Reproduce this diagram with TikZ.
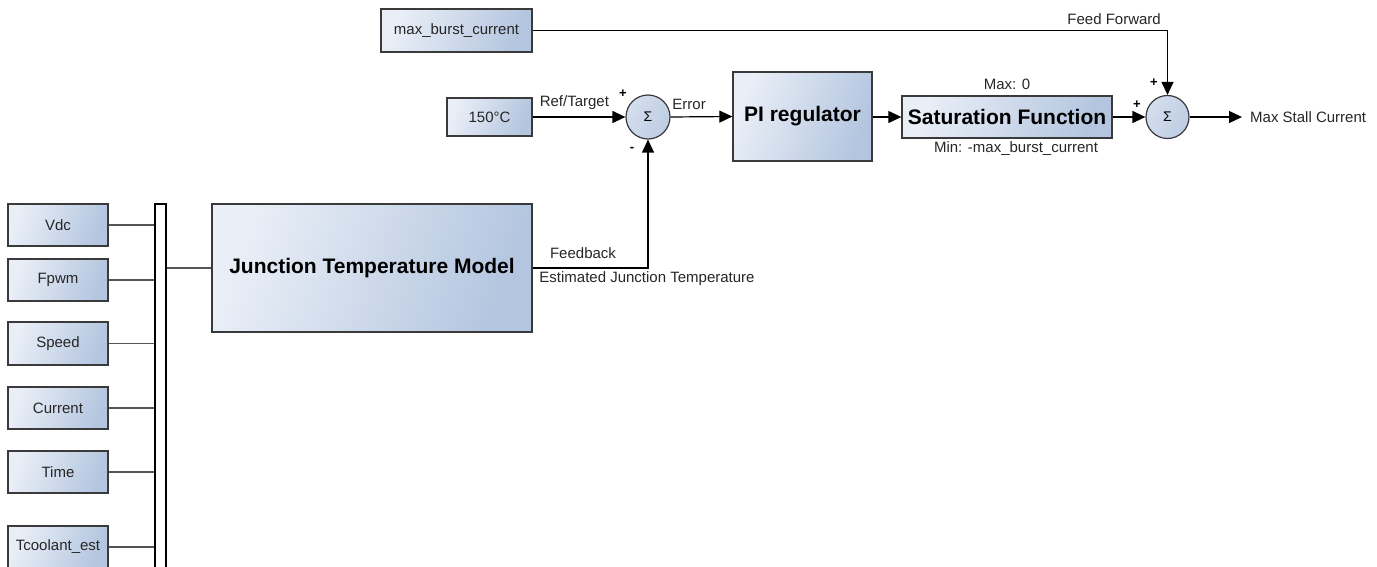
\documentclass[tikz,border=0pt]{standalone}
\usepackage{fontspec}
\setmainfont{Liberation Sans}
\usetikzlibrary{arrows.meta}
\definecolor{boxl}{HTML}{EAEFF7}
\definecolor{boxr}{HTML}{B3C5DF}
\definecolor{edge}{HTML}{3A3A3A}
\definecolor{wire}{HTML}{555555}
\tikzset{
  blk/.style={draw=edge, line width=1.3pt, left color=boxl, right color=boxr, shading angle=70,
    inner sep=0pt, font=\fontsize{15}{17}\selectfont, text=black!85},
  bigblk/.style={blk, font=\fontsize{21}{24}\selectfont\bfseries, text=black},
  sumnode/.style={draw=edge, line width=1.2pt, circle, left color=boxl!60!boxr, right color=boxr!80!boxl, shading angle=60,
    inner sep=0pt, font=\fontsize{14}{16}\selectfont},
  busbar/.style={draw=black, line width=1.2pt, fill=white, inner sep=0pt, minimum width=11pt},
  sig/.style={line width=1.2pt, -{Triangle[length=13pt,width=12pt]}},
  buswire/.style={draw=wire, line width=1.2pt},
  lbl/.style={font=\fontsize{15}{17}\selectfont, text=black!85, inner sep=0pt},
  sgn/.style={font=\fontsize{13}{15}\selectfont\bfseries, inner sep=0pt},
}
\begin{document}
\begin{tikzpicture}[x=1pt,y=-1pt]
\useasboundingbox (0,0) rectangle (1377,567);

% top row
\node[blk, minimum width=151, minimum height=43] (mbc) at (456.5,30.5) {max\_burst\_current};
\node[blk, minimum width=85, minimum height=38] (ref) at (489.5,117) {150°C};
\node[sumnode, minimum size=44] (s1) at (648,117) {Σ};
\node[bigblk, minimum width=139, minimum height=89] (pi) at (802.5,116.5) {PI regulator};
\node[bigblk, minimum width=210, minimum height=42] (sat) at (1007,117) {Saturation Function};
\node[sumnode, minimum size=43] (s2) at (1167.5,117) {Σ};
\coordinate (out) at (1242,117);

% left column
\node[blk, minimum width=100, minimum height=42] (vdc) at (58,225) {Vdc};
\node[blk, minimum width=100, minimum height=42] (fpwm) at (58,280) {Fpwm};
\node[blk, minimum width=100, minimum height=43] (speed) at (58,343.5) {Speed};
\node[blk, minimum width=100, minimum height=42] (curr) at (58,408) {Current};
\node[blk, minimum width=100, minimum height=42] (time) at (58,472) {Time};
\node[blk, minimum width=100, minimum height=42] (tcool) at (58,547) {Tcoolant\_est};
\node[busbar, minimum height=370] (bus) at (160.5,389) {};
\node[bigblk, minimum width=320, minimum height=128] (jtm) at (372,268) {Junction Temperature Model};

% bus wires
\foreach \n in {vdc,fpwm,speed,curr,time,tcool}
  \draw[buswire] (\n.east) -- (\n.east -| bus.west);
\draw[buswire] (jtm.west -| bus.east) -- (jtm.west);

% signals
\draw[sig] (ref.east) -- node[lbl, above=7pt, pos=0.45] {Ref/Target} (s1.west);
\draw[sig] (s1.east) -- node[lbl, above=7pt, pos=0.3] {Error} (pi.west);
\draw[sig] (pi.east |- sat.west) -- (sat.west);
\draw[sig] (sat.east) -- (s2.west);
\draw[sig] (s2.east) -- (out);
\node[lbl, anchor=west] at (1250,117) {Max Stall Current};
\draw[sig] (jtm.east) -| (s1.south);
\node[lbl] at (583,253) {Feedback};
\node[lbl] at (647,279) {Estimated Junction Temperature};
\draw[sig] (mbc.east) -| (s2.north);
\node[lbl, anchor=east] at (1161,19) {Feed Forward};
\node[lbl] at (1007,84) {Max: 0};
\node[lbl] at (1016,149) {Min: -max\_burst\_current};

% signs
\node[sgn] at (623,94) {+};
\node[sgn] at (632,149) {-};
\node[sgn] at (1137,105) {+};
\node[sgn] at (1154,83) {+};
\end{tikzpicture}
\end{document}
